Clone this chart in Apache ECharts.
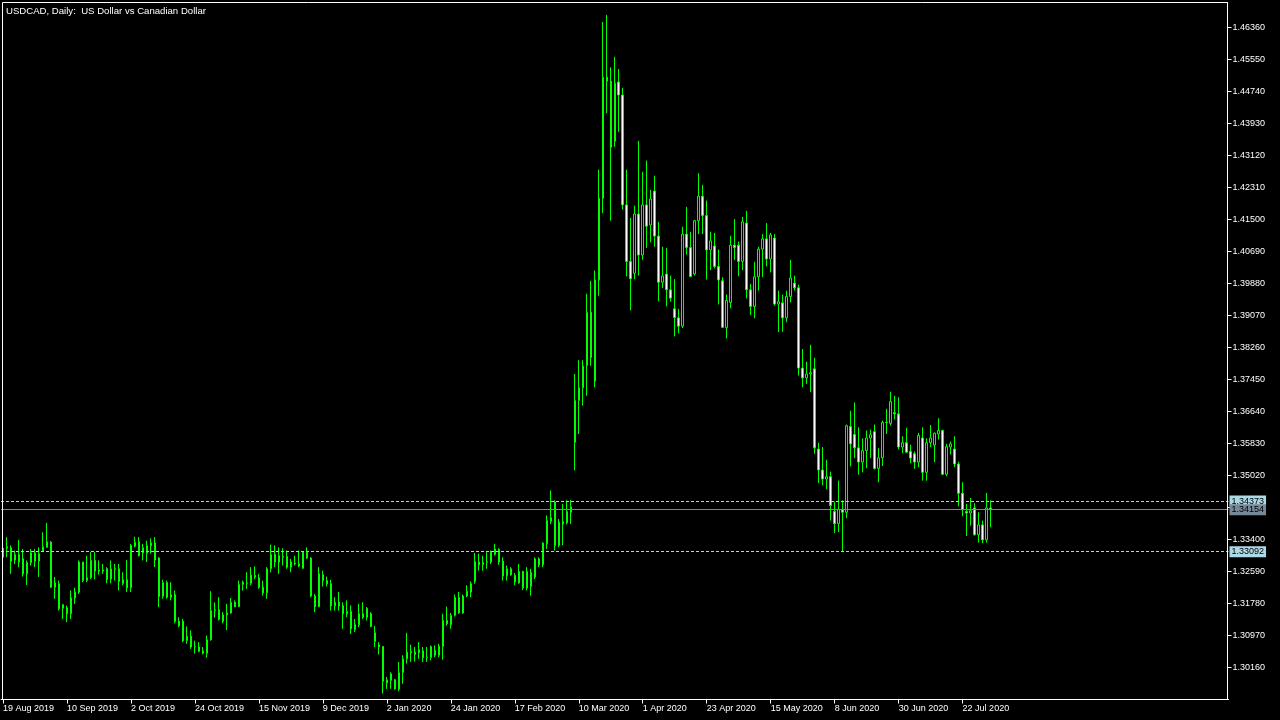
<!DOCTYPE html>
<html>
<head>
<meta charset="utf-8">
<script src="https://cdn.jsdelivr.net/npm/echarts@6/dist/echarts.min.js"></script>
<style>
html,body{margin:0;padding:0;background:#000;}
#chart{width:1280px;height:720px;}
</style>
</head>
<body>
<div id="chart"></div>
<script>
// ---- data ----
const titleText = 'USDCAD, Daily:  US Dollar vs Canadian Dollar';
const firstDay = '2019-08-19';
const skippedDays = ['2019-12-25', '2020-01-01'];
const emptySlots = 59; // empty space to the right of the last bar

const open = [
1.3295,1.3318,1.3319,1.3288,1.3302,1.3291,1.3253,1.3281,1.3306,1.3285,
1.3310,1.3320,1.3333,1.3219,1.3228,1.3166,1.3167,1.3152,1.3192,1.3207,
1.3283,1.3236,1.3243,1.3287,1.3260,1.3263,1.3266,1.3240,1.3266,1.3266,
1.3238,1.3238,1.3218,1.3323,1.3334,1.3306,1.3305,1.3324,1.3331,1.3293,
1.3196,1.3231,1.3194,1.3200,1.3133,1.3133,1.3084,1.3095,1.3068,1.3068,
1.3057,1.3052,1.3086,1.3160,1.3162,1.3133,1.3149,1.3154,1.3181,1.3170,
1.3226,1.3229,1.3229,1.3249,1.3243,1.3219,1.3205,1.3266,1.3302,1.3283,
1.3297,1.3297,1.3270,1.3280,1.3278,1.3267,1.3308,1.3293,1.3197,1.3170,
1.3251,1.3236,1.3228,1.3172,1.3181,1.3172,1.3152,1.3158,1.3112,1.3124,
1.3152,1.3143,1.3152,1.3104,1.3073,1.3069,1.2977,1.2983,1.2985,1.2961,
1.3003,1.3038,1.3053,1.3055,1.3053,1.3058,1.3041,1.3041,1.3059,1.3047,
1.3069,1.3135,1.3124,1.3148,1.3193,1.3154,1.3197,1.3207,1.3234,1.3283,
1.3276,1.3282,1.3283,1.3302,1.3315,1.3285,1.3248,1.3266,1.3249,1.3230,
1.3259,1.3217,1.3221,1.3245,1.3291,1.3276,1.3329,1.3386,1.3435,1.3325,
1.3379,1.3382,1.3409,1.3586,1.3692,1.3724,1.3780,1.3915,1.3741,1.3997,
1.4204,1.4510,1.4500,1.4348,1.4498,1.4465,1.4187,1.4044,1.4014,1.4164,
1.4060,1.4187,1.4136,1.4222,1.4108,1.3991,1.4012,1.3972,1.3924,1.3901,
1.3880,1.4113,1.4079,1.4012,1.4147,1.4209,1.4160,1.4073,1.4083,1.4031,
1.3995,1.3876,1.3940,1.4085,1.4085,1.4044,1.4141,1.3972,1.3930,1.4005,
1.4075,1.4101,1.4050,1.4103,1.3936,1.3939,1.3901,1.3955,1.3989,1.3977,
1.3774,1.3749,1.3759,1.3772,1.3569,1.3516,1.3493,1.3499,1.3411,1.3380,
1.3416,1.3409,1.3626,1.3606,1.3572,1.3536,1.3565,1.3597,1.3613,1.3520,
1.3547,1.3636,1.3634,1.3661,1.3658,1.3574,1.3585,1.3563,1.3557,1.3536,
1.3597,1.3510,1.3585,1.3579,1.3607,1.3616,1.3505,1.3574,1.3569,1.3531,
1.3457,1.3411,1.3407,1.3420,1.3352,1.3377,1.3339,1.3420];

const close = [
1.3318,1.3322,1.3285,1.3302,1.3283,1.3253,1.3282,1.3306,1.3285,1.3304,
1.3322,1.3334,1.3219,1.3230,1.3165,1.3175,1.3152,1.3192,1.3207,1.3283,
1.3236,1.3243,1.3287,1.3260,1.3263,1.3260,1.3239,1.3266,1.3265,1.3234,
1.3229,1.3218,1.3325,1.3333,1.3299,1.3319,1.3324,1.3331,1.3288,1.3196,
1.3231,1.3194,1.3200,1.3133,1.3122,1.3084,1.3095,1.3068,1.3069,1.3057,
1.3052,1.3086,1.3160,1.3162,1.3138,1.3149,1.3154,1.3181,1.3170,1.3226,
1.3232,1.3230,1.3250,1.3245,1.3219,1.3205,1.3266,1.3302,1.3283,1.3299,
1.3295,1.3270,1.3283,1.3278,1.3273,1.3308,1.3293,1.3197,1.3170,1.3253,
1.3236,1.3228,1.3172,1.3181,1.3172,1.3152,1.3158,1.3114,1.3125,1.3152,
1.3143,1.3166,1.3120,1.3082,1.3068,1.2981,1.2985,1.3000,1.2962,1.3003,
1.3038,1.3055,1.3057,1.3049,1.3061,1.3041,1.3042,1.3069,1.3047,1.3070,
1.3135,1.3127,1.3148,1.3193,1.3154,1.3197,1.3209,1.3228,1.3284,1.3276,
1.3282,1.3284,1.3308,1.3316,1.3283,1.3248,1.3266,1.3251,1.3233,1.3259,
1.3217,1.3259,1.3257,1.3291,1.3276,1.3331,1.3388,1.3395,1.3325,1.3384,
1.3385,1.3411,1.3423,1.3692,1.3724,1.3779,1.3915,1.3801,1.3997,1.4204,
1.4510,1.4500,1.4333,1.4495,1.4465,1.4187,1.4044,1.4000,1.4164,1.4060,
1.4187,1.4133,1.4202,1.4108,1.3991,1.4007,1.3972,1.3951,1.3902,1.3880,
1.4113,1.4079,1.4006,1.4147,1.4209,1.4160,1.4073,1.4096,1.4031,1.3997,
1.3877,1.3945,1.4085,1.4079,1.4044,1.4144,1.3972,1.3930,1.4005,1.4075,
1.4101,1.4050,1.4111,1.3936,1.3942,1.3901,1.3955,1.4002,1.3977,1.3774,
1.3749,1.3759,1.3762,1.3572,1.3516,1.3493,1.3499,1.3426,1.3380,1.3416,
1.3409,1.3628,1.3582,1.3572,1.3536,1.3565,1.3597,1.3605,1.3520,1.3547,
1.3636,1.3637,1.3689,1.3658,1.3574,1.3585,1.3561,1.3546,1.3536,1.3603,
1.3510,1.3585,1.3597,1.3609,1.3616,1.3505,1.3575,1.3582,1.3531,1.3457,
1.3415,1.3407,1.3413,1.3352,1.3377,1.3339,1.3420,1.3415];

const low = [
1.3257,1.3295,1.3253,1.3278,1.3270,1.3246,1.3225,1.3274,1.3270,1.3245,
1.3308,1.3320,1.3218,1.3190,1.3160,1.3139,1.3131,1.3139,1.3177,1.3202,
1.3232,1.3232,1.3240,1.3239,1.3251,1.3253,1.3229,1.3229,1.3236,1.3211,
1.3224,1.3207,1.3207,1.3320,1.3297,1.3287,1.3283,1.3304,1.3270,1.3169,
1.3190,1.3190,1.3186,1.3128,1.3118,1.3080,1.3076,1.3063,1.3051,1.3055,
1.3049,1.3041,1.3084,1.3142,1.3135,1.3128,1.3111,1.3152,1.3169,1.3169,
1.3211,1.3215,1.3224,1.3240,1.3215,1.3198,1.3190,1.3257,1.3270,1.3253,
1.3274,1.3266,1.3257,1.3274,1.3270,1.3266,1.3291,1.3194,1.3156,1.3169,
1.3221,1.3221,1.3160,1.3160,1.3160,1.3114,1.3143,1.3101,1.3106,1.3118,
1.3139,1.3135,1.3118,1.3068,1.3049,1.2950,1.2962,1.2962,1.2960,1.2956,
1.2975,1.3026,1.3030,1.3031,1.3038,1.3030,1.3030,1.3034,1.3042,1.3042,
1.3036,1.3122,1.3114,1.3145,1.3152,1.3152,1.3194,1.3194,1.3228,1.3261,
1.3261,1.3266,1.3278,1.3299,1.3276,1.3236,1.3236,1.3248,1.3224,1.3228,
1.3212,1.3211,1.3198,1.3240,1.3270,1.3270,1.3316,1.3379,1.3312,1.3320,
1.3325,1.3378,1.3379,1.3515,1.3607,1.3679,1.3704,1.3780,1.3725,1.3957,
1.4166,1.4419,1.4147,1.4334,1.4372,1.4175,1.4006,1.3920,1.3999,1.4008,
1.4048,1.4078,1.4092,1.4081,1.3943,1.3976,1.3930,1.3942,1.3854,1.3862,
1.3875,1.4061,1.4004,1.4008,1.4113,1.4113,1.3998,1.4022,1.4026,1.3935,
1.3875,1.3849,1.3925,1.4048,1.4006,1.4022,1.3950,1.3908,1.3900,1.3970,
1.4004,1.4031,1.4016,1.3932,1.3865,1.3866,1.3890,1.3940,1.3970,1.3755,
1.3725,1.3734,1.3713,1.3557,1.3483,1.3477,1.3467,1.3388,1.3356,1.3359,
1.3310,1.3394,1.3525,1.3546,1.3504,1.3510,1.3520,1.3546,1.3517,1.3485,
1.3526,1.3607,1.3628,1.3644,1.3568,1.3559,1.3559,1.3533,1.3519,1.3523,
1.3489,1.3489,1.3574,1.3536,1.3593,1.3503,1.3500,1.3555,1.3523,1.3424,
1.3399,1.3349,1.3375,1.3350,1.3332,1.3331,1.3332,1.3371];

const high = [
1.3325,1.3346,1.3325,1.3312,1.3339,1.3316,1.3287,1.3316,1.3316,1.3320,
1.3358,1.3382,1.3336,1.3245,1.3236,1.3177,1.3173,1.3211,1.3218,1.3287,
1.3283,1.3299,1.3308,1.3308,1.3287,1.3278,1.3270,1.3287,1.3278,1.3278,
1.3257,1.3288,1.3329,1.3347,1.3346,1.3329,1.3337,1.3343,1.3346,1.3295,
1.3238,1.3236,1.3232,1.3211,1.3143,1.3139,1.3120,1.3110,1.3084,1.3080,
1.3068,1.3097,1.3209,1.3181,1.3194,1.3156,1.3177,1.3192,1.3186,1.3236,
1.3236,1.3257,1.3270,1.3272,1.3253,1.3236,1.3270,1.3327,1.3325,1.3320,
1.3318,1.3312,1.3291,1.3299,1.3312,1.3310,1.3320,1.3295,1.3202,1.3270,
1.3261,1.3246,1.3238,1.3194,1.3207,1.3181,1.3186,1.3173,1.3139,1.3177,
1.3181,1.3169,1.3156,1.3121,1.3080,1.3069,1.2992,1.3004,1.2987,1.3030,
1.3047,1.3104,1.3074,1.3068,1.3080,1.3068,1.3068,1.3072,1.3072,1.3076,
1.3152,1.3170,1.3154,1.3201,1.3207,1.3201,1.3224,1.3234,1.3306,1.3304,
1.3299,1.3308,1.3312,1.3329,1.3318,1.3295,1.3274,1.3270,1.3255,1.3278,
1.3261,1.3270,1.3266,1.3295,1.3295,1.3333,1.3401,1.3464,1.3439,1.3392,
1.3430,1.3439,1.3440,1.3759,1.3794,1.3794,1.3962,1.3995,1.4021,1.4276,
1.4650,1.4668,1.4535,1.4562,1.4531,1.4483,1.4276,1.4154,1.4185,1.4349,
1.4271,1.4299,1.4225,1.4261,1.4144,1.4081,1.4078,1.4008,1.3999,1.3924,
1.4132,1.4182,1.4119,1.4149,1.4267,1.4238,1.4198,1.4119,1.4116,1.4074,
1.4004,1.3960,1.4109,1.4151,1.4094,1.4157,1.4172,1.3987,1.4043,1.4081,
1.4113,1.4141,1.4116,1.4113,1.3970,1.3960,1.3970,1.4048,1.4008,1.3985,
1.3822,1.3790,1.3833,1.3800,1.3585,1.3574,1.3542,1.3512,1.3436,1.3489,
1.3439,1.3631,1.3666,1.3687,1.3624,1.3596,1.3616,1.3618,1.3631,1.3571,
1.3641,1.3671,1.3714,1.3704,1.3700,1.3601,1.3623,1.3580,1.3563,1.3610,
1.3624,1.3596,1.3630,1.3611,1.3647,1.3618,1.3582,1.3588,1.3601,1.3537,
1.3485,1.3430,1.3445,1.3432,1.3409,1.3388,1.3458,1.3439];

// price scale
const firstTick = 1.30160;
const tickStep = 0.00810;
const priceLines = [1.34373, 1.34154, 1.33092];
const labelEvery = 16;

// ---- categories (trading days) ----
const monthNames = ['Jan','Feb','Mar','Apr','May','Jun','Jul','Aug','Sep','Oct','Nov','Dec'];
function iso(d){ return d.toISOString().slice(0,10); }
const categories = [];
{
  const d = new Date(firstDay + 'T00:00:00Z');
  while (categories.length < open.length) {
    const wd = d.getUTCDay();
    if (wd !== 0 && wd !== 6 && skippedDays.indexOf(iso(d)) < 0) {
      categories.push(d.getUTCDate() + ' ' + monthNames[d.getUTCMonth()] + ' ' + d.getUTCFullYear());
    }
    d.setUTCDate(d.getUTCDate() + 1);
  }
}
const nBars = categories.length;
for (let k = 0; k < emptySlots; k++) categories.push('');

const ohlc = open.map((o, i) => [o, close[i], low[i], high[i]]);

// ---- layout ----
const gridLeft = 0.5, gridTop = 2.5, gridBottom = 20.5;
const plotH = 720 - gridTop - gridBottom;          // 697
const pxPerStep = 32;                               // pixels between ticks
const yMin = firstTick - tickStep;                  // one step under the first label
const yMax = yMin + plotH / pxPerStep * tickStep;

const FONT = 'Liberation Sans';
const showTick = (idx) => idx % labelEvery === 0 && idx < nBars;

const chart = echarts.init(document.getElementById('chart'), null, {renderer: 'canvas', width: 1280, height: 720});
chart.setOption({
  backgroundColor: '#000',
  animation: false,
  title: {
    text: titleText, left: 6, top: 6, padding: 0,
    textStyle: {color: '#fff', fontSize: 9.6, fontWeight: 'normal', fontFamily: FONT}
  },
  grid: {left: gridLeft, top: gridTop, width: categories.length * 4, bottom: gridBottom, show: false},
  xAxis: {
    type: 'category', data: categories, boundaryGap: true,
    axisLine: {show: true, lineStyle: {color: '#fff', width: 1}},
    axisTick: {show: true, alignWithLabel: true, interval: showTick, length: 4, lineStyle: {color: '#fff'}},
    axisLabel: {show: true, interval: showTick, color: '#fff', fontFamily: FONT, fontSize: 9, align: 'left', margin: 5, padding: [0,0,0,0]},
    splitLine: {show: false}
  },
  yAxis: {
    type: 'value', position: 'right', offset: -1, scale: true,
    min: yMin, max: yMax, interval: tickStep,
    axisLine: {show: true, lineStyle: {color: '#fff', width: 1}},
    axisTick: {show: true, length: 4, lineStyle: {color: '#fff'}},
    axisLabel: {
      color: '#fff', fontFamily: FONT, fontSize: 9, margin: 5,
      showMinLabel: false, showMaxLabel: false,
      formatter: (v) => (v < firstTick - tickStep / 2 ? '' : v.toFixed(5))
    },
    splitLine: {show: false}
  },
  graphic: [{
    type: 'rect', silent: true, z: 100,
    shape: {x: 2.5, y: 2.5, width: 1225, height: 697},
    style: {fill: null, stroke: '#fff', lineWidth: 1}
  }],
  series: [{
    type: 'candlestick',
    data: ohlc,
    barWidth: 2,
    clip: true,
    itemStyle: {
      color: '#000', color0: '#fff',
      borderColor: '#00ff00', borderColor0: '#00ff00', borderColorDoji: '#00ff00',
      borderWidth: 1
    },
    emphasis: {disabled: true},
    markLine: {
      silent: true, symbol: 'none', animation: false, precision: 5,
      data: [
        {yAxis: priceLines[0], lineStyle: {color: '#add8e6', type: [3, 2], width: 1},
         label: {backgroundColor: '#add8e6'}},
        {yAxis: priceLines[1], lineStyle: {color: '#778899', type: 'solid', width: 1},
         label: {backgroundColor: '#778899'}},
        {yAxis: priceLines[2], lineStyle: {color: '#add8e6', type: [3, 2], width: 1},
         label: {backgroundColor: '#add8e6'}}
      ],
      label: {
        show: true, position: 'end', distance: 1,
        color: '#000', fontFamily: FONT, fontSize: 9,
        padding: [1, 2, 1, 2],
        formatter: (p) => Number(p.value).toFixed(5)
      }
    }
  }]
});
</script>
</body>
</html>
